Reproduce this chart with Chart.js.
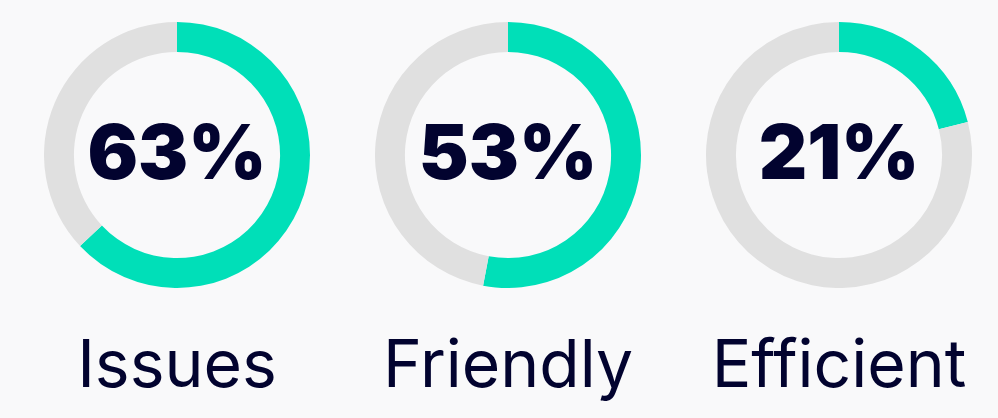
<!DOCTYPE html>
<html>
<head>
<meta charset="utf-8">
<script src="https://cdn.jsdelivr.net/npm/chart.js@4"></script>
<style>
  html, body { margin: 0; padding: 0; background: #f9f9fa; }
  body { width: 998px; height: 418px; position: relative; overflow: hidden; }
  .box { position: absolute; width: 266px; height: 266px; top: 22px; }
  .box canvas { position: absolute; left: 0; top: 0; }
  .pct { position: absolute; left: 0; top: -4px; width: 266px; height: 266px; display: flex; align-items: center; justify-content: center;
         font-family: Inter, sans-serif; font-weight: 900; font-size: 75px; color: #02032f; }
  .lbl { position: absolute; top: 323px; width: 330px; text-align: center; font-family: Inter, sans-serif; font-weight: 400;
         font-size: 66px; color: #02032f; line-height: 80px; }
</style>
</head>
<body>
<script>
const categories = ["Issues", "Friendly", "Efficient"];
const values = [63, 53, 21];
const centersX = [177, 508, 839];
const teal = "#00dfb8";
const grey = "#e0e0e0";

categories.forEach((cat, i) => {
  const box = document.createElement("div");
  box.className = "box";
  box.style.left = (centersX[i] - 133) + "px";
  const cv = document.createElement("canvas");
  cv.width = 266; cv.height = 266;
  box.appendChild(cv);
  const pct = document.createElement("div");
  pct.className = "pct";
  pct.textContent = values[i] + "%";
  box.appendChild(pct);
  document.body.appendChild(box);

  const lbl = document.createElement("div");
  lbl.className = "lbl";
  lbl.style.left = (centersX[i] - 165) + "px";
  lbl.textContent = cat;
  document.body.appendChild(lbl);

  new Chart(cv, {
    type: "doughnut",
    data: {
      labels: [cat, "Rest"],
      datasets: [{ data: [values[i], 100 - values[i]], backgroundColor: [teal, grey], borderWidth: 0 }]
    },
    options: {
      responsive: false,
      animation: false,
      cutout: "77.5%",
      layout: { padding: 0 },
      plugins: { legend: { display: false }, tooltip: { enabled: false } }
    }
  });
});
</script>
</body>
</html>
